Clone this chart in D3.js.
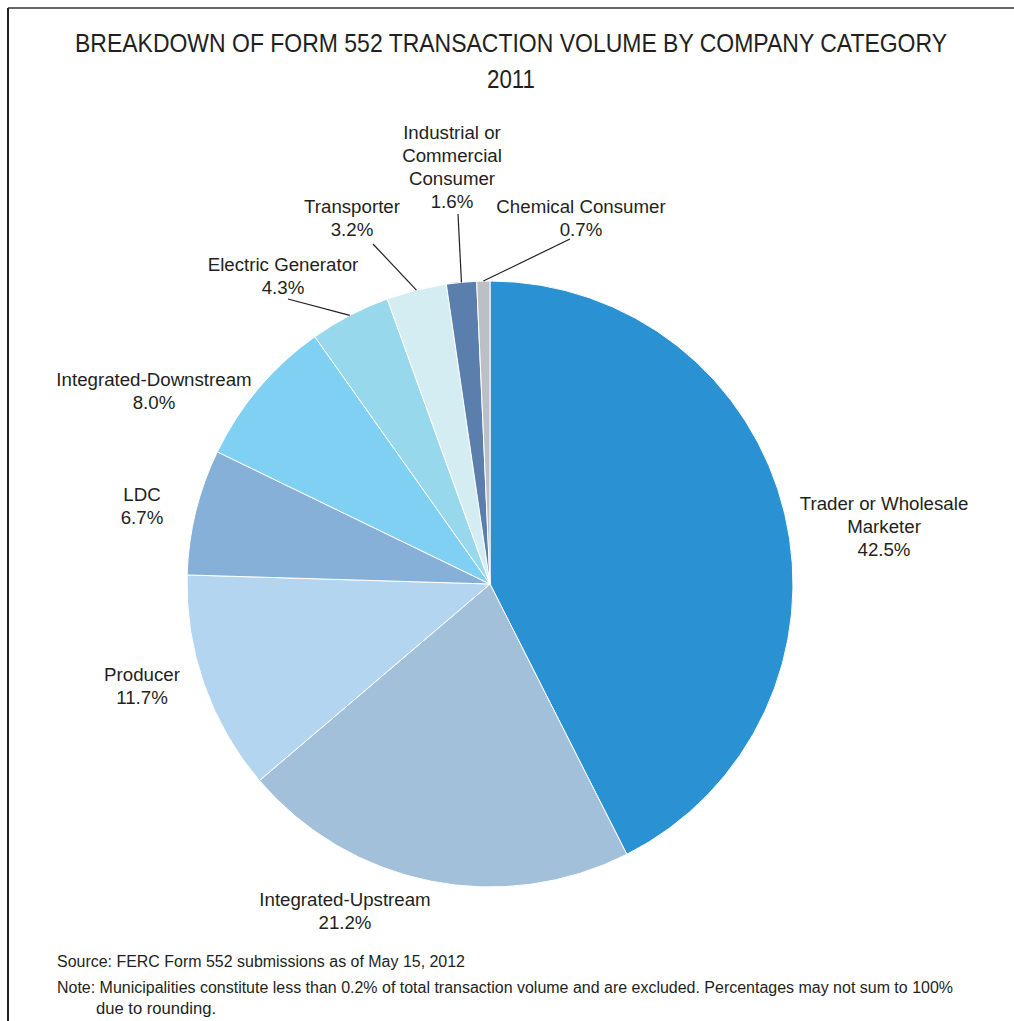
<!DOCTYPE html>
<html>
<head>
<meta charset="utf-8">
<script src="https://cdn.jsdelivr.net/npm/d3@7"></script>
<style>
	body { margin: 0; background: #fff; }
	svg text { fill: #231f20; }
	.narrow { font-family: "Liberation Sans Narrow", "Arial Narrow", "Liberation Sans", sans-serif; }
	.lbl { font-family: "Liberation Sans", Arial, sans-serif; font-size: 18.7px; }
</style>
</head>
<body>
<svg width="1014" height="1021"></svg>
<script>
const categories = [
	"Trader or Wholesale Marketer",
	"Integrated-Upstream",
	"Producer",
	"LDC",
	"Integrated-Downstream",
	"Electric Generator",
	"Transporter",
	"Industrial or Commercial Consumer",
	"Chemical Consumer"
];
const shares = [42.5, 21.2, 11.7, 6.7, 8.0, 4.3, 3.2, 1.6, 0.7];
const colors = ["#2a92d3", "#a3c0db", "#b3d5ef", "#87b0d8", "#80d0f3", "#98d8ed", "#d4edf3", "#5b7fad", "#bcc0c6"];

// how each label is broken into lines, and where it sits
const labelLines = [
	["Trader or Wholesale", "Marketer"],
	["Integrated-Upstream"],
	["Producer"],
	["LDC"],
	["Integrated-Downstream"],
	["Electric Generator"],
	["Transporter"],
	["Industrial or", "Commercial", "Consumer"],
	["Chemical Consumer"]
];
const labelPos = [[884, 510], [345, 906], [142, 681], [142, 501], [154, 386], [283, 271], [352, 213], [452, 139], [581, 213]];
// leader lines: start point near label, null for none
const leaderFrom = [null, null, null, null, null, [288, 299], [373, 244], [458, 214], [570, 239]];

const svg = d3.select("svg");
const cx = 490, cy = 584, radius = 303;
const lineH = 23;

// frame
svg.append("line").attr("x1", 8).attr("x2", 1014).attr("y1", 8).attr("y2", 8)
	.attr("stroke", "#666").attr("stroke-width", 2);
svg.append("line").attr("x1", 8).attr("x2", 8).attr("y1", 8).attr("y2", 1021)
	.attr("stroke", "#222").attr("stroke-width", 2);

// title: condensed look, stretched up a bit
svg.append("g").attr("transform", "translate(511,52) scale(1,1.14)")
	.append("text").attr("class", "narrow")
	.attr("text-anchor", "middle")
	.attr("font-size", 22).attr("textLength", 872).attr("lengthAdjust", "spacingAndGlyphs")
	.text("BREAKDOWN OF FORM 552 TRANSACTION VOLUME BY COMPANY CATEGORY");
svg.append("g").attr("transform", "translate(511,88) scale(1,1.14)")
	.append("text").attr("class", "narrow")
	.attr("text-anchor", "middle")
	.attr("font-size", 22).attr("textLength", 48).attr("lengthAdjust", "spacingAndGlyphs")
	.text("2011");

const pie = d3.pie().sort(null).value(d => d)(shares);
const arc = d3.arc().innerRadius(0).outerRadius(radius);

const g = svg.append("g").attr("transform", "translate(" + cx + "," + cy + ")");
g.selectAll("path")
	.data(pie)
	.enter().append("path")
	.attr("d", arc)
	.attr("fill", (d, i) => colors[i])
	.attr("stroke", "#fff")
	.attr("stroke-width", 1);

// leader lines to the outer edge of the small slices
pie.forEach((d, i) => {
	if (!leaderFrom[i]) return;
	var a = (d.startAngle + d.endAngle) / 2;
	svg.append("line")
		.attr("x1", leaderFrom[i][0]).attr("y1", leaderFrom[i][1])
		.attr("x2", cx + radius * Math.sin(a)).attr("y2", cy - radius * Math.cos(a))
		.attr("stroke", "#231f20").attr("stroke-width", 1.2);
});

// labels
categories.forEach((c, i) => {
	var t = svg.append("text").attr("class", "lbl").attr("text-anchor", "middle");
	var lines = labelLines[i].concat([shares[i].toFixed(1) + "%"]);
	lines.forEach((s, k) => {
		t.append("tspan").attr("x", labelPos[i][0]).attr("y", labelPos[i][1] + k * lineH).text(s);
	});
});

// footnotes
svg.append("text").attr("class", "narrow").attr("x", 57).attr("y", 967).attr("font-size", 16)
	.attr("textLength", 408).attr("lengthAdjust", "spacingAndGlyphs")
	.text("Source: FERC Form 552 submissions as of May 15, 2012");
svg.append("text").attr("class", "narrow").attr("x", 57).attr("y", 993).attr("font-size", 16)
	.attr("textLength", 896).attr("lengthAdjust", "spacingAndGlyphs")
	.text("Note: Municipalities constitute less than 0.2% of total transaction volume and are excluded. Percentages may not sum to 100%");
svg.append("text").attr("class", "narrow").attr("x", 96).attr("y", 1014).attr("font-size", 16)
	.attr("textLength", 120).attr("lengthAdjust", "spacingAndGlyphs")
	.text("due to rounding.");
</script>
</body>
</html>
